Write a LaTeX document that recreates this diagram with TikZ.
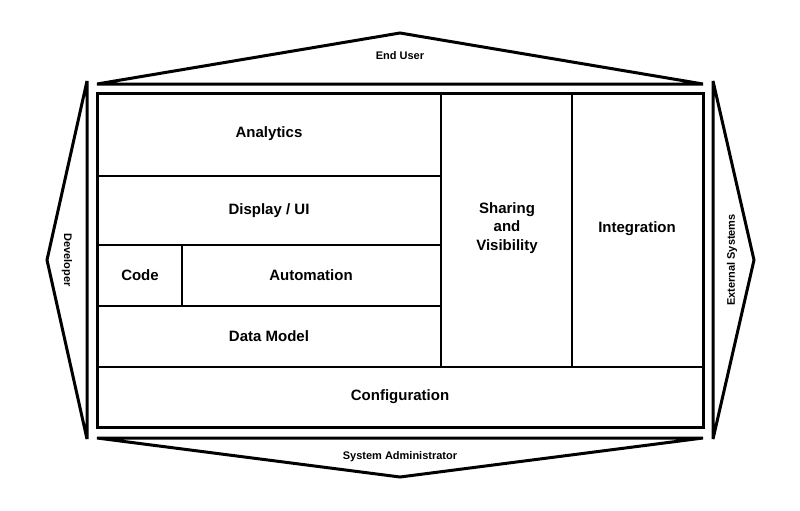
\documentclass[tikz,border=0pt]{standalone}
\usepackage{fontspec}
\setmainfont{Liberation Sans}
\usepackage{tikz}

\tikzset{
  heavy/.style={draw=black,line join=miter,miter limit=6,line cap=butt,line width=3pt},
  light/.style={draw=black,line join=miter,line cap=butt,line width=1.4pt},
  blocklabel/.style={align=center,font=\bfseries\fontsize{15}{18.5}\selectfont},
  rolelabel/.style={font=\bfseries\fontsize{11}{13}\selectfont}
}

\begin{document}
\begin{tikzpicture}[y=1pt, x=1pt, yscale=-1, inner sep=0pt, outer sep=0pt]
  \useasboundingbox (0,0) rectangle (800,511);
  % role triangles round the platform
  \path[heavy] (97,84) -- (400,33) -- (703,84) -- cycle;
  \path[heavy] (97,438) -- (400,477) -- (703,438) -- cycle;
  \path[heavy] (87,81) -- (47,260) -- (87,439) -- cycle;
  \path[heavy] (713,81) -- (754,260) -- (713,439) -- cycle;
  % platform frame
  \path[heavy] (97,93) rectangle (703,427);
  \path[light] (97,367) -- (703,367);
  \path[light] (441,93) -- (441,367);
  \path[light] (572,93) -- (572,367);
  \path[light] (97,176) -- (441,176);
  \path[light] (97,245) -- (441,245);
  \path[light] (97,306) -- (441,306);
  \path[light] (182,245) -- (182,306);
  % block labels
  \path[fill=black] (269,134) node[blocklabel] (analytics) {Analytics};
  \path[fill=black] (269,210.5) node[blocklabel] (display) {Display / UI};
  \path[fill=black] (140,275) node[blocklabel] (code) {Code};
  \path[fill=black] (311,275) node[blocklabel] (automation) {Automation};
  \path[fill=black] (269,336) node[blocklabel] (datamodel) {Data Model};
  \path[fill=black] (507,228) node[blocklabel] (sharing) {Sharing\\and\\Visibility};
  \path[fill=black] (637,229) node[blocklabel] (integration) {Integration};
  \path[fill=black] (400,396.5) node[blocklabel] (configuration) {Configuration};
  % role labels
  \path[fill=black] (400,56) node[rolelabel] (enduser) {End User};
  \path[fill=black] (400,457) node[rolelabel] (sysadmin) {System Administrator};
  \path[fill=black] (67,260) node[rolelabel,rotate=-90] (developer) {Developer};
  \path[fill=black] (732,260) node[rolelabel,rotate=90] (external) {External Systems};
\end{tikzpicture}
\end{document}
